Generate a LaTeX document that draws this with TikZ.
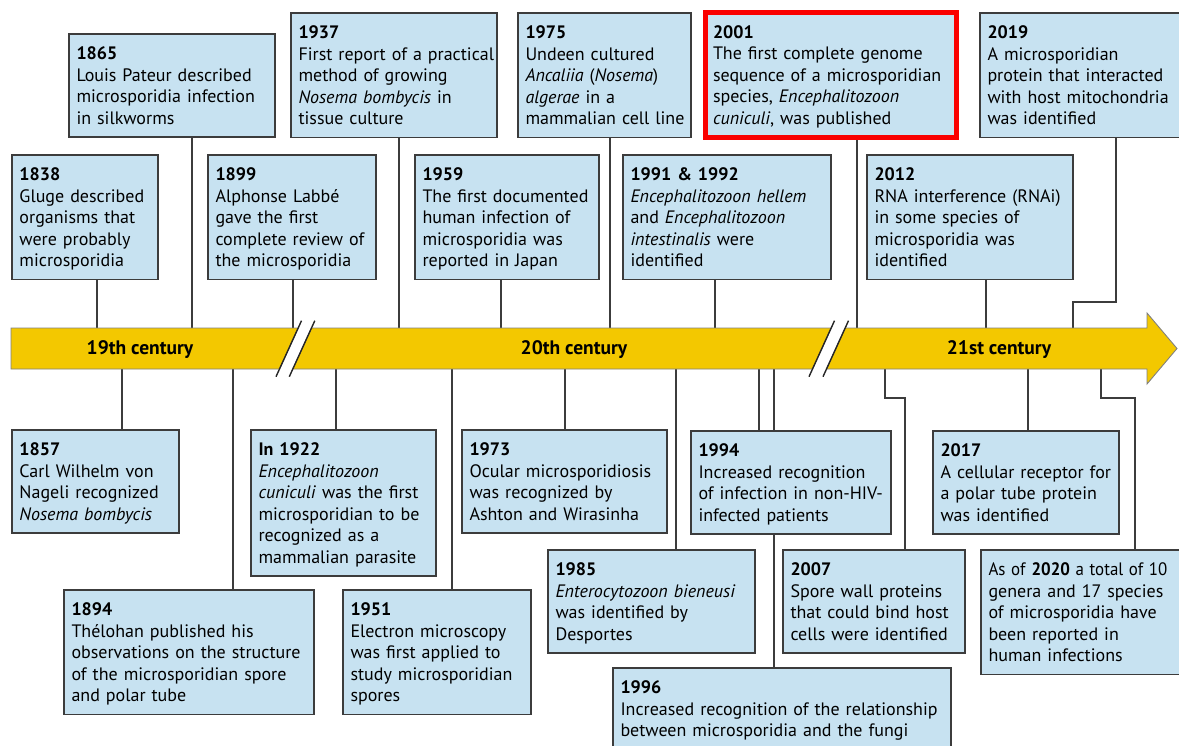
\documentclass[tikz,border=0pt]{standalone}
\usepackage{fontspec}
\usepackage{array}
\usepackage{graphicx}
\setmainfont{PT Sans}
\usetikzlibrary{backgrounds}
\definecolor{boxfill}{RGB}{199,226,241}
\definecolor{boxline}{RGB}{60,60,60}
\definecolor{baryellow}{RGB}{243,200,0}
\definecolor{hilite}{RGB}{250,0,0}
\newcommand\evstrut{\rule[-4.5pt]{0pt}{21.5pt}}
\newcommand\evbox[1]{{\renewcommand\arraystretch{0}%
  \begin{tabular}{@{}>{\evstrut}l@{}}#1\end{tabular}}}
\newcommand\ev[2]{\evbox{\textbf{#1}\\#2}}
\tikzset{
  event/.style={draw=boxline, fill=boxfill, line width=1.3pt, anchor=north west,
    outer sep=0pt, inner xsep=7.5pt, inner ysep=8.5pt, align=left,
    font=\fontsize{18}{21.5}\selectfont},
  keyevent/.style={event, draw=hilite, line width=5pt},
  link/.style={draw=boxline, line width=1.4pt},
  barpart/.style={fill=baryellow, draw=black!50, line width=0.9pt},
  slash/.style={draw=black!85, line width=1.4pt},
  era/.style={font=\fontsize{19.5}{21}\selectfont\bfseries}
}
\begin{document}
\begin{tikzpicture}[x=1pt,y=-1pt]
\useasboundingbox (0,0) rectangle (1179,745);

\node[event, text width=191pt] (n1865) at (69,34)
  {\ev{1865}{Louis Pateur described\\microsporidia infection\\in silkworms}};
\node[event, text width=131pt] (n1838) at (12,155)
  {\ev{1838}{Gluge described\\organisms that\\were probably\\microsporidia}};
\node[event, text width=153pt] (n1899) at (208,155)
  {\ev{1899}{Alphonse Labbé\\gave the first\\complete review of\\the microsporidia}};
\node[event, text width=191pt] (n1937) at (291,13)
  {\ev{1937}{First report of a practical\\method of growing\\\textit{Nosema bombycis} in\\tissue culture}};
\node[event, text width=169pt] (n1959) at (415,155)
  {\ev{1959}{The first documented\\human infection of\\microsporidia was\\reported in Japan}};
\node[event, text width=158pt] (n1975) at (518,13)
  {\ev{1975}{Undeen cultured\\\textit{Ancaliia} (\textit{Nosema})\\\textit{algerae} in a\\mammalian cell line}};
\node[event, text width=193pt] (n1991) at (623,155)
  {\ev{1991 \& 1992}{\textit{Encephalitozoon hellem}\\and \textit{Encephalitozoon}\\\textit{intestinalis} were\\identified}};
\node[keyevent, text width=236pt] (n2001) at (705.5,12.5)
  {\ev{2001}{The first complete genome\\sequence of a microsporidian\\species, \textit{Encephalitozoon}\\\textit{cuniculi}, was published}};
\node[event, text width=191pt] (n2012) at (867,155)
  {\ev{2012}{RNA interference (RNAi)\\in some species of\\microsporidia was\\identified}};
\node[event, text width=189pt] (n2019) at (980,13)
  {\ev{2019}{A microsporidian\\protein that interacted\\with host mitochondria\\was identified}};

\node[event, text width=152pt] (n1857) at (12,430)
  {\ev{1857}{Carl Wilhelm von\\Nageli recognized\\\textit{Nosema bombycis}}};
\node[event, text width=235pt] (n1894) at (64,590)
  {\ev{1894}{Thélohan published his\\observations on the structure\\of the microsporidian spore\\and polar tube}};
\node[event, text width=170pt] (n1922) at (251,430)
  {\ev{In 1922}{\textit{Encephalitozoon}\\\textit{cuniculi} was the first\\microsporidian to be\\recognized as a\\mammalian parasite}};
\node[event, text width=173pt] (n1951) at (343,590)
  {\ev{1951}{Electron microscopy\\was first applied to\\study microsporidian\\spores}};
\node[event, text width=190pt] (n1973) at (462,430)
  {\ev{1973}{Ocular microsporidiosis\\was recognized by\\Ashton and Wirasinha}};
\node[event, text width=192pt] (n1985) at (548,550)
  {\ev{1985}{\textit{Enterocytozoon bieneusi}\\was identified by\\Desportes}};
\node[event, text width=185pt] (n1994) at (691,431)
  {\ev{1994}{Increased recognition\\of infection in non-HIV-\\infected patients}};
\node[event, text width=323pt] (n1996) at (613,668)
  {\ev{1996}{Increased recognition of the relationship\\between microsporidia and the fungi}};
\node[event, text width=167pt] (n2007) at (783,550)
  {\ev{2007}{Spore wall proteins\\that could bind host\\cells were identified}};
\node[event, text width=171pt] (n2017) at (933,431)
  {\ev{2017}{A cellular receptor for\\a polar tube protein\\was identified}};
\node[event, text width=189pt] (n2020) at (981,550)
  {\evbox{\scalebox{0.94}[1]{As of \textbf{2020} a total of 10}\\genera and 17 species\\of microsporidia have\\been reported in\\human infections}};

\path[barpart] (11,328) -- (298.2,328) -- (279.5,369) -- (11,369) -- cycle;
\path[barpart] (311.5,328) -- (831.2,328) -- (812.5,369) -- (292.8,369) -- cycle;
\path[barpart] (845.2,328) -- (1147,328) -- (1147,313) -- (1177,348.5)
  -- (1147,384) -- (1147,369) -- (826.5,369) -- cycle;
\draw[slash] (276,376.7) -- (301.5,320.7);
\draw[slash] (289.3,376.7) -- (314.8,320.7);
\draw[slash] (809,376.7) -- (834.5,320.7);
\draw[slash] (823,376.7) -- (848.5,320.7);
\node[era] (c19) at (140,350) {19th century};
\node[era] (c20) at (574,350) {20th century};
\node[era] (c21) at (999,350) {21st century};

\begin{scope}[on background layer]
\foreach \n/\x in {1865/192,1838/97,1899/293,1937/399,1959/501,1975/610,1991/715,2001/857,2012/986}{
  \coordinate (t\n) at (\x,328);
  \draw[link] (t\n) -- (t\n |- n\n.south);
}
\foreach \n/\x in {1857/122,1894/233,1922/336,1951/452,1973/565,1985/676,1994/759,1996/774,2017/1028}{
  \coordinate (t\n) at (\x,369);
  \draw[link] (t\n) -- (t\n |- n\n.north);
}
\coordinate (t2019) at (1073,328);
\coordinate (k2019) at (1116,302);
\draw[link] (n2019.south -| k2019) -- (k2019) -- (k2019 -| t2019) -- (t2019);
\coordinate (t2007) at (885,369);
\coordinate (k2007) at (905,398);
\draw[link] (t2007) |- (k2007) -- (k2007 |- n2007.north);
\coordinate (t2020) at (1101,369);
\coordinate (k2020) at (1135,398);
\draw[link] (t2020) |- (k2020) -- (k2020 |- n2020.north);
\end{scope}
\end{tikzpicture}
\end{document}
